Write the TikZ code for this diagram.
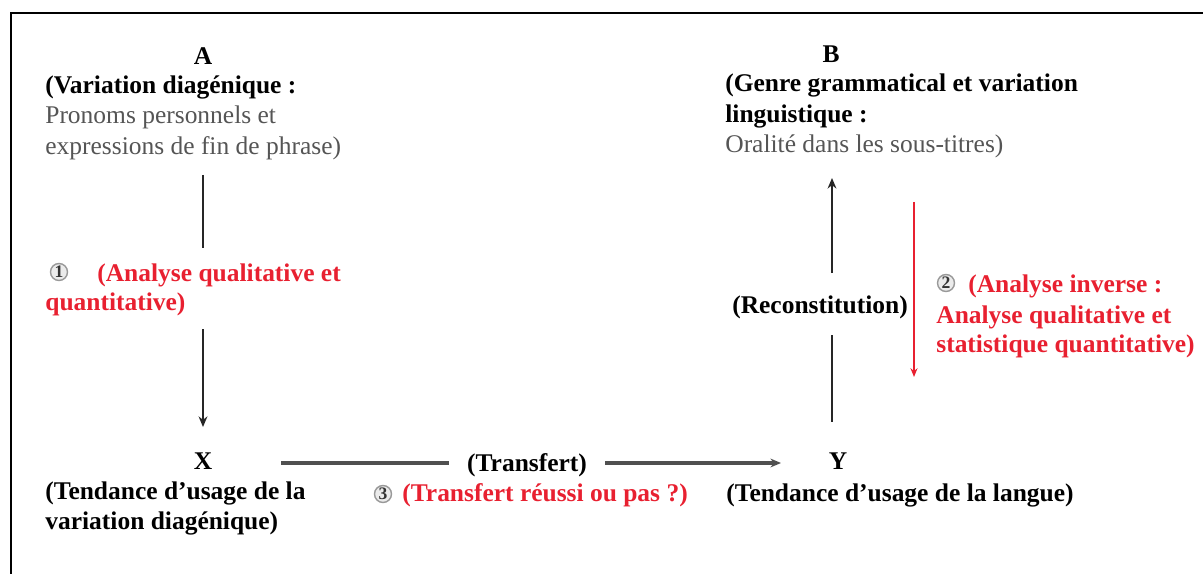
\documentclass[tikz,border=0pt]{standalone}
\usepackage{fontspec}
\setmainfont{Liberation Serif}
\usetikzlibrary{arrows.meta}
\definecolor{labelred}{RGB}{232,32,48}
\definecolor{bodygray}{RGB}{85,85,85}
\definecolor{linkgray}{RGB}{80,80,80}
\begin{document}
\begin{tikzpicture}[x=0.02cm,y=-0.02cm,
  txt/.style={inner sep=0pt, anchor=base west, font=\fontsize{14.5}{17}\selectfont},
  head/.style={txt, font=\fontsize{14.5}{17}\selectfont\bfseries},
  body/.style={txt, text=bodygray},
  redlab/.style={head, text=labelred},
  num/.style={circle, draw=black!40, fill=black!8, line width=0.8pt, inner sep=0pt,
              minimum size=0.34cm, font=\fontsize{10}{10}\selectfont\bfseries, text=black!80},
  vline/.style={line width=1.5pt, black!85},
  tip/.style={-{Stealth[length=6pt,width=5pt]}},
  hline/.style={line width=2pt, linkgray},
  redarrow/.style={line width=1pt, labelred, -{Stealth[length=5pt,width=4pt]}},
]
\useasboundingbox (0,0) rectangle (1203,574);
% frame
\draw[line width=1pt] (11,580) -- (11,13) -- (1210,13);

% block A
\node[head, anchor=base] (A) at (203,65) {A};
\node[head] (A1) at (45,94) {(Variation diagénique :};
\node[body] (A2) at (45,124) {Pronoms personnels et};
\node[body] (A3) at (45,155) {expressions de fin de phrase)};

% step 1 label
\node[num] (n1) at (59,272) {1};
\node[redlab] (L1a) at (97,281) {(Analyse qualitative et};
\node[redlab] (L1b) at (45,310) {quantitative)};

% block X
\node[head, anchor=base] (X) at (203,469) {X};
\node[head] (X1) at (45,499) {(Tendance d’usage de la};
\node[head] (X2) at (45,529) {variation diagénique)};

% transfer
\node[head, anchor=base] (T) at (527,471) {(Transfert)};
\node[num] (n3) at (383,494) {3};
\node[redlab] (L3) at (402,501) {(Transfert réussi ou pas ?)};

% block Y
\node[head, anchor=base] (Y) at (838,469) {Y};
\node[head] (Y1) at (726,501) {(Tendance d’usage de la langue)};

% block B
\node[head, anchor=base] (B) at (831,63) {B};
\node[head] (B1) at (725,92) {(Genre grammatical et variation};
\node[head] (B2) at (725,123) {linguistique :};
\node[body] (B3) at (725,153) {Oralité dans les sous-titres)};

\node[head, anchor=base] (R) at (820,313) {(Reconstitution)};

% step 2 label
\node[num] (n2) at (946,283) {2};
\node[redlab] (L2a) at (968,292) {(Analyse inverse :};
\node[redlab] (L2b) at (936,323) {Analyse qualitative et};
\node[redlab] (L2c) at (936,352) {statistique quantitative)};

% connector end points
\coordinate (a1) at (A |- 0,175);
\coordinate (a2) at (A |- 0,248);
\coordinate (a3) at (A |- 0,329);
\coordinate (a4) at (A |- 0,427);
\coordinate (b1) at (832,273);
\coordinate (b2) at (832,178);
\coordinate (b3) at (832,335);
\coordinate (b4) at (832,422);
\coordinate (r1) at (914,202);
\coordinate (r2) at (914,377);
\coordinate (h1) at (281,463);
\coordinate (h2) at (449,463);
\coordinate (h3) at (605,463);
\coordinate (h4) at (781,463);

% A -> X
\draw[vline] (a1) -- (a2);
\draw[vline, tip] (a3) -- (a4);
% Y -> B
\draw[vline, tip] (b1) -- (b2);
\draw[vline] (b3) -- (b4);
% inverse analysis
\draw[redarrow] (r1) -- (r2);
% X -> Y
\draw[hline] (h1) -- (h2);
\draw[hline, tip] (h3) -- (h4);
\end{tikzpicture}
\end{document}
